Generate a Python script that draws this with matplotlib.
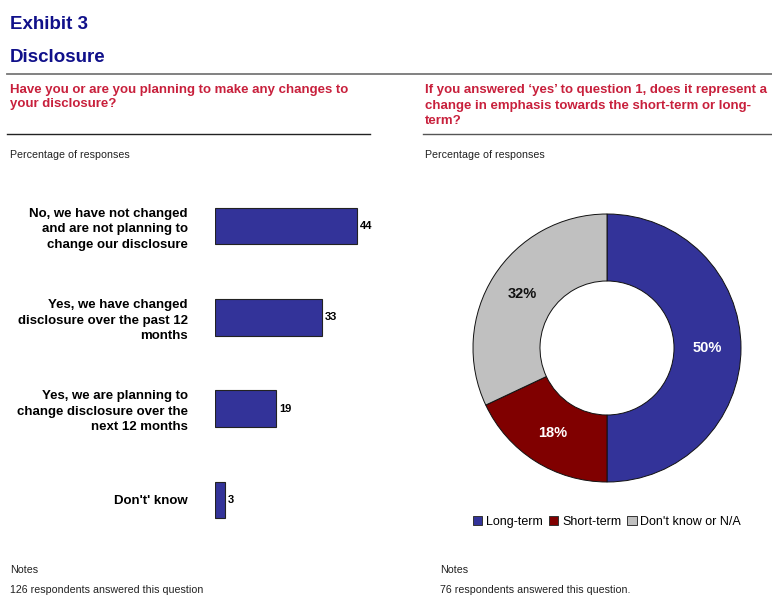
import matplotlib.pyplot as plt
from matplotlib.lines import Line2D
from matplotlib.patches import Patch

# 調査結果
categories = [
    "No, we have not changed\nand are not planning to\nchange our disclosure",
    "Yes, we have changed\ndisclosure over the past 12\nmonths",
    "Yes, we are planning to\nchange disclosure over the\nnext 12 months",
    "Don't' know",
]
responses = [44, 33, 19, 3]

emphasis_labels = ["Long-term", "Short-term", "Don't know or N/A"]
emphasis_share = [50, 18, 32]

question_left = ["Have you or are you planning to make any changes to",
                 "your disclosure?"]
question_right = ["If you answered \u2018yes\u2019 to question 1, does it represent a",
                  "change in emphasis towards the short-term or long-",
                  "term?"]

W, H = 772, 612
NAVY = "#10108a"
RED = "#c8203c"
BLUE = "#333399"
MAROON = "#800000"
GREY = "#c0c0c0"

plt.rcParams['font.family'] = ['Liberation Sans', 'DejaVu Sans']


def fx(px):
    return px / W


def fy(py):
    return 1 - py / H


fig = plt.figure(figsize=(7.72, 6.12), dpi=100)

# 見出し
fig.text(fx(10), fy(29), "Exhibit 3", fontsize=13.5, fontweight="bold", color=NAVY)
fig.text(fx(10), fy(62), "Disclosure", fontsize=13.5, fontweight="bold", color=NAVY)
fig.add_artist(Line2D([fx(7), 1], [fy(73.5), fy(73.5)], color="#777777", lw=1.3))

# 設問
for i, line in enumerate(question_left):
    fig.text(fx(10), fy(92.5 + i * 15), line, fontsize=9.5, fontweight="bold", color=RED)
for i, line in enumerate(question_right):
    fig.text(fx(425), fy(93.5 + i * 15.5), line, fontsize=9.5, fontweight="bold", color=RED)
fig.add_artist(Line2D([fx(7), fx(370)], [fy(134), fy(134)], color="#222222", lw=1.0))
fig.add_artist(Line2D([fx(423), 1], [fy(134), fy(134)], color="#555555", lw=1.0))

fig.text(fx(10), fy(158), "Percentage of responses", fontsize=7.7, color="#222222")
fig.text(fx(425), fy(158), "Percentage of responses", fontsize=7.7, color="#222222")

# 横棒グラフ
scale = 142 / 44.0
ax = fig.add_axes([fx(215), fy(545.6), 50 * scale / W, 365.2 / H])
ypos = list(range(len(responses)))
ax.barh(ypos, responses, height=0.4, color=BLUE, edgecolor="#222222", linewidth=0.8)
for y, v in zip(ypos, responses):
    ax.text(v + 1.0, y, str(v), va="center", ha="left", fontsize=8, fontweight="bold")
ax.set_xlim(0, 50)
ax.set_ylim(3.5, -0.5)
ax.set_yticks(ypos)
ax.set_yticklabels(categories, fontsize=9.5, fontweight="bold", linespacing=1.37)
ax.tick_params(axis="y", length=0, pad=19.5)
ax.set_xticks([])
for s in ax.spines.values():
    s.set_visible(False)

# ドーナツグラフ
r_px = 134
side = r_px * 2.5
ax2 = fig.add_axes([fx(607 - side / 2), fy(348 + side / 2), side / W, side / H])
wedges, texts, autotexts = ax2.pie(
    emphasis_share, colors=[BLUE, MAROON, GREY], startangle=90, counterclock=False,
    autopct="%d%%", pctdistance=0.75,
    wedgeprops=dict(width=0.5, edgecolor="#111111", linewidth=0.7),
)
for t, c in zip(autotexts, ["white", "white", "#111111"]):
    t.set_color(c)
    t.set_fontsize(10.5)
    t.set_fontweight("bold")

handles = [Patch(facecolor=c, edgecolor="#333333", linewidth=0.7) for c in [BLUE, MAROON, GREY]]
fig.legend(handles, emphasis_labels, loc="center", bbox_to_anchor=(fx(607), fy(522)),
           ncol=3, frameon=False, fontsize=9, handlelength=0.75, handleheight=0.75,
           handletextpad=0.3, columnspacing=0.5)

# 注記
fig.text(fx(10), fy(573), "Notes", fontsize=7.7, color="#222222")
fig.text(fx(10), fy(593), "126 respondents answered this question", fontsize=7.7, color="#222222")
fig.text(fx(440), fy(573), "Notes", fontsize=7.7, color="#222222")
fig.text(fx(440), fy(593), "76 respondents answered this question.", fontsize=7.7, color="#222222")

fig.savefig("out.png", dpi=100)
